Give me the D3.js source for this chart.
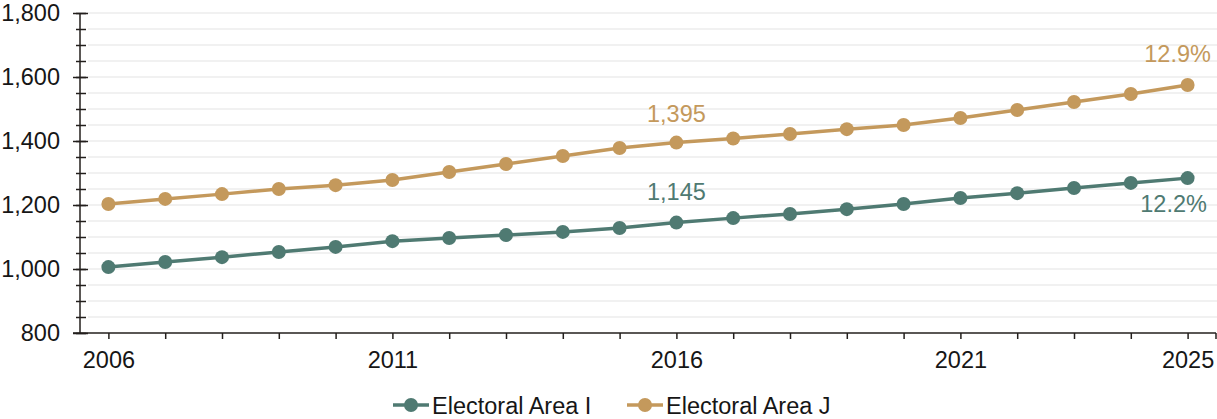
<!DOCTYPE html>
<html>
<head>
<meta charset="utf-8">
<script src="https://cdn.jsdelivr.net/npm/d3@7"></script>
<style>
  html, body { margin: 0; padding: 0; background: #fff; }
  svg { display: block; font-family: "Liberation Sans", Arial, sans-serif; }
</style>
</head>
<body>
<svg id="chart" width="1217" height="419"></svg>
<script>
// Population by year for two electoral areas
const years = [2006, 2007, 2008, 2009, 2010, 2011, 2012, 2013, 2014, 2015,
               2016, 2017, 2018, 2019, 2020, 2021, 2022, 2023, 2024, 2025];
const areaI = [1006, 1022, 1037, 1053, 1069, 1087, 1097, 1106, 1116, 1128,
               1145, 1159, 1172, 1187, 1203, 1222, 1237, 1253, 1269, 1284];
const areaJ = [1203, 1219, 1234, 1250, 1262, 1278, 1303, 1328, 1353, 1378,
               1395, 1408, 1422, 1437, 1450, 1472, 1497, 1522, 1547, 1575];
const seriesNames = ["Electoral Area I", "Electoral Area J"];
const growthLabels = ["12.2%", "12.9%"];
const yearLabels = [2006, 2011, 2016, 2021, 2025];
const yMajorTicks = [800, 1000, 1200, 1400, 1600, 1800];
const yMinorTicks = d3.range(800, 1801, 50);

const colors = ["#4f7a72", "#c4995c"];
const textColor = "#161616";
const axisColor = "#231f1c";
const fontSize = 23.5;
const svg = d3.select("#chart");

const x = d3.scalePoint().domain(years).range([80, 1216]).padding(0.5);
const y = d3.scaleLinear().domain([800, 1800]).range([333, 13]);

// horizontal gridlines
svg.append("g").selectAll("line").data(yMinorTicks.filter(d => d > 800)).join("line")
  .attr("x1", 88).attr("x2", 1217)
  .attr("y1", d => y(d)).attr("y2", d => y(d))
  .attr("stroke", "#ececec").attr("stroke-width", 1.5);

// y axis: minor ticks crossing the axis line, then the labelled majors
const yMinor = svg.append("g").attr("transform", "translate(80,0)")
  .call(d3.axisLeft(y).tickValues(yMinorTicks).tickSize(4).tickFormat(""));
yMinor.select(".domain").remove();
yMinor.selectAll(".tick line").attr("x1", 6).attr("x2", -4)
  .attr("stroke", axisColor).attr("stroke-width", 1.5);

const yAxis = svg.append("g").attr("transform", "translate(80,0)")
  .call(d3.axisLeft(y).tickValues(yMajorTicks).tickSize(7).tickFormat(d3.format(",")));
yAxis.select(".domain").remove();
yAxis.selectAll(".tick line").attr("x1", 8).attr("x2", -7)
  .attr("stroke", axisColor).attr("stroke-width", 1.5);
yAxis.selectAll(".tick text").attr("x", -20).attr("font-size", fontSize)
  .attr("fill", textColor).attr("font-family", "Liberation Sans, Arial, sans-serif");
svg.append("line").attr("x1", 80).attr("x2", 80).attr("y1", y(1800)).attr("y2", y(800))
  .attr("stroke", axisColor).attr("stroke-width", 1.5);

// x axis
const xAxis = svg.append("g").attr("transform", "translate(0,333)")
  .call(d3.axisBottom(x).tickValues(years).tickSize(6)
    .tickFormat(d => yearLabels.includes(d) ? String(d) : ""));
xAxis.select(".domain").remove();
xAxis.selectAll(".tick line").attr("stroke", axisColor).attr("stroke-width", 1.5);
xAxis.selectAll(".tick text").attr("y", 18).attr("font-size", fontSize)
  .attr("fill", textColor).attr("font-family", "Liberation Sans, Arial, sans-serif");
svg.append("line").attr("x1", 73).attr("x2", 1216).attr("y1", 333).attr("y2", 333)
  .attr("stroke", axisColor).attr("stroke-width", 1.5);
svg.append("line").attr("x1", 1216).attr("x2", 1216).attr("y1", 333).attr("y2", 339)
  .attr("stroke", axisColor).attr("stroke-width", 1.5);

// series lines and markers
const series = [areaI, areaJ];
const line = d3.line().x((d, i) => x(years[i])).y(d => y(d));
series.forEach((vals, s) => {
  svg.append("path").datum(vals).attr("d", line)
    .attr("fill", "none").attr("stroke", colors[s]).attr("stroke-width", 3.5);
  svg.append("g").selectAll("circle").data(vals).join("circle")
    .attr("cx", (d, i) => x(years[i])).attr("cy", d => y(d)).attr("r", 7)
    .attr("fill", colors[s]);
});

// value labels for 2016 and growth labels for 2025
const fmt = d3.format(",");
const i2016 = years.indexOf(2016);
const iLast = years.length - 1;
svg.append("text").attr("x", x(2016)).attr("y", y(areaI[i2016]) - 23)
  .attr("text-anchor", "middle").attr("font-size", fontSize).attr("fill", colors[0])
  .text(fmt(areaI[i2016]));
svg.append("text").attr("x", x(2016)).attr("y", y(areaJ[i2016]) - 21)
  .attr("text-anchor", "middle").attr("font-size", fontSize).attr("fill", colors[1])
  .text(fmt(areaJ[i2016]));
svg.append("text").attr("x", x(years[iLast]) - 14).attr("y", y(areaI[iLast]) + 34)
  .attr("text-anchor", "middle").attr("font-size", fontSize).attr("fill", colors[0])
  .text(growthLabels[0]);
svg.append("text").attr("x", x(years[iLast]) - 10).attr("y", y(areaJ[iLast]) - 23)
  .attr("text-anchor", "middle").attr("font-size", fontSize).attr("fill", colors[1])
  .text(growthLabels[1]);

// legend
const legendX = [393, 627];
seriesNames.forEach((name, s) => {
  const g = svg.append("g").attr("transform", `translate(${legendX[s]},405)`);
  g.append("line").attr("x1", 0).attr("x2", 36).attr("stroke", colors[s]).attr("stroke-width", 3.5);
  g.append("circle").attr("cx", 18).attr("r", 7).attr("fill", colors[s]);
  g.append("text").attr("x", 39).attr("y", 8.5).attr("font-size", fontSize).attr("fill", textColor).text(name);
});
</script>
</body>
</html>
